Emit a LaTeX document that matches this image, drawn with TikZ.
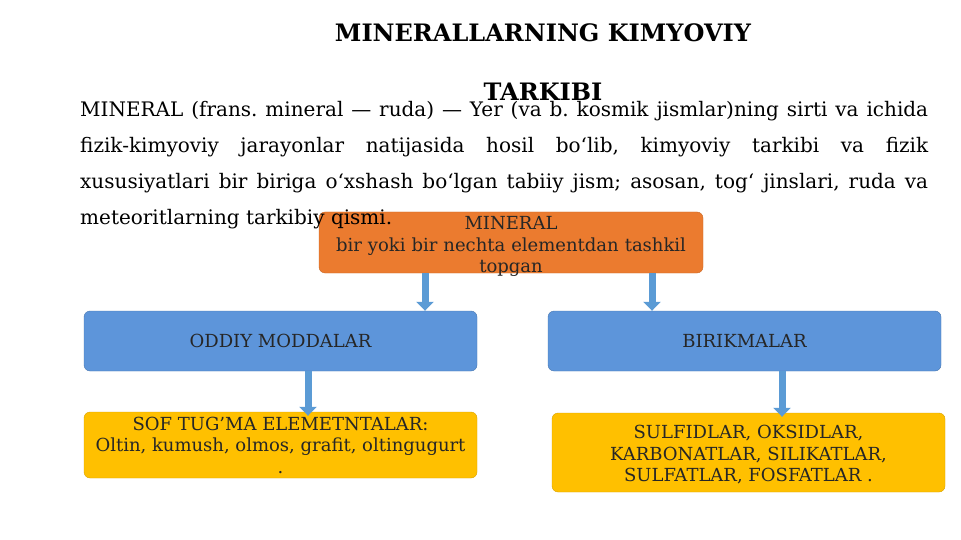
\documentclass[tikz,border=0pt]{standalone}
\usepackage{xcolor}
\usepackage{fontspec}
\setmainfont{DejaVu Serif}
\usepackage{tikz}
\usetikzlibrary{arrows.meta}

\definecolor{minorange}{HTML}{EB7B2F}
\definecolor{modblue}{HTML}{5D95DA}
\definecolor{elyellow}{HTML}{FFC000}
\definecolor{arrblue}{HTML}{5B9BD5}

\tikzset{
    box/.style={rounded corners=6pt, align=center, inner sep=0pt,
        font=\fontsize{18}{21.5}\selectfont, text=black!85},
    orangebox/.style={box, fill=minorange, draw=minorange!85!black},
    bluebox/.style={box, fill=modblue, draw=modblue!80!black},
    yellowbox/.style={box, fill=elyellow, draw=elyellow!85!black},
    blk/.style={line width=7pt, draw=arrblue, -{Triangle[width=17pt,length=9pt]}}
}

\begin{document}
\frenchspacing
\begin{tikzpicture}[x=1pt,y=-1pt]
        \useasboundingbox (0,0) rectangle (961,540);

        % Title
        \node[font=\bfseries\fontsize{24}{59}\selectfont, align=center] (t)
            at (543,62) {MINERALLARNING KIMYOVIY\\TARKIBI};

        % Boxes
        \node[orangebox, text width=384pt, minimum height=61pt] (min)
            at (511,242.5) {MINERAL\\bir yoki bir nechta elementdan tashkil\\topgan\par\vspace*{-8pt}};
        \node[bluebox, minimum width=393pt, minimum height=60pt] (od)
            at (280.5,341) {ODDIY MODDALAR};
        \node[bluebox, minimum width=393pt, minimum height=60pt] (bi)
            at (744.5,341) {BIRIKMALAR};
        \node[yellowbox, minimum width=393pt, minimum height=66pt] (sof)
            at (280.5,445) {SOF TUG'MA ELEMETNTALAR:\\Oltin, kumush, olmos, grafit, oltingugurt\\.};
        \node[yellowbox, minimum width=393pt, minimum height=79pt] (sul)
            at (748.5,452.5) {\rule{0pt}{18pt}SULFIDLAR, OKSIDLAR,\\KARBONATLAR, SILIKATLAR,\\SULFATLAR, FOSFATLAR .};

        % Paragraph
        \node[anchor=north west, inner sep=0pt, text width=848pt, align=justify,
            font=\fontsize{20}{36}\selectfont] (par) at (80,101)
            {MINERAL (frans. mineral — ruda) — Yer (va b. kosmik jismlar)ning sirti va ichida\linebreak
            fizik-kimyoviy jarayonlar natijasida hosil bo‘lib, kimyoviy tarkibi va fizik\linebreak
            xususiyatlari bir biriga o‘xshash bo‘lgan tabiiy jism; asosan, tog‘ jinslari, ruda va\linebreak
            meteoritlarning tarkibiy qismi.};

        % Arrows
        \coordinate (c1) at (425,0);
        \coordinate (c2) at (652,0);
        \coordinate (c3) at (308,0);
        \coordinate (c4) at (782,0);
        \draw[blk] (min.south -| c1) -- (od.north -| c1);
        \draw[blk] (min.south -| c2) -- (bi.north -| c2);
        \draw[blk] (od.south -| c3) -- ([yshift=-4pt]sof.north -| c3);
        \draw[blk] (bi.south -| c4) -- ([yshift=-4pt]sul.north -| c4);
    \end{tikzpicture}
\end{document}
